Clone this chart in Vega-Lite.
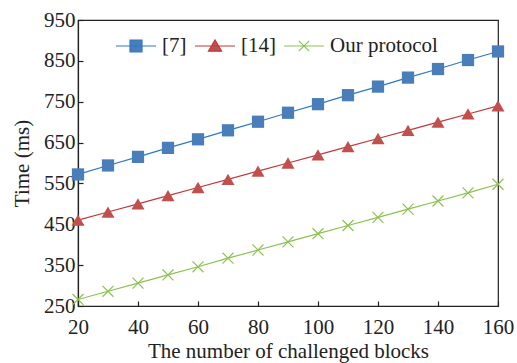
{
  "$schema": "https://vega.github.io/schema/vega-lite/v6.json",
  "width": 420,
  "height": 286,
  "autosize": "none",
  "padding": {"left": 78, "top": 20, "right": 19, "bottom": 57},
  "background": "white",
  "config": {
    "font": "Liberation Serif",
    "view": {"stroke": "#222", "strokeWidth": 1.2},
    "axis": {
      "domainColor": "#222", "domainWidth": 1.2, "tickColor": "#222", "tickWidth": 1.2,
      "tickSize": -5, "grid": false, "labelFlush": false, "labelFont": "Liberation Serif", "labelFontSize": 21,
      "labelColor": "#222", "titleFont": "Liberation Serif", "titleFontSize": 21,
      "titleFontWeight": "normal", "titleColor": "#222"
    }
  },
  "data": {"values": [
    {"x": 20, "s": "[7]", "y": 572}, {"x": 30, "s": "[7]", "y": 594}, {"x": 40, "s": "[7]", "y": 615},
    {"x": 50, "s": "[7]", "y": 637}, {"x": 60, "s": "[7]", "y": 658}, {"x": 70, "s": "[7]", "y": 680},
    {"x": 80, "s": "[7]", "y": 701}, {"x": 90, "s": "[7]", "y": 723}, {"x": 100, "s": "[7]", "y": 744},
    {"x": 110, "s": "[7]", "y": 766}, {"x": 120, "s": "[7]", "y": 787}, {"x": 130, "s": "[7]", "y": 809},
    {"x": 140, "s": "[7]", "y": 830}, {"x": 150, "s": "[7]", "y": 852}, {"x": 160, "s": "[7]", "y": 873},
    {"x": 20, "s": "[14]", "y": 460}, {"x": 30, "s": "[14]", "y": 480}, {"x": 40, "s": "[14]", "y": 500},
    {"x": 50, "s": "[14]", "y": 520}, {"x": 60, "s": "[14]", "y": 540}, {"x": 70, "s": "[14]", "y": 560},
    {"x": 80, "s": "[14]", "y": 580}, {"x": 90, "s": "[14]", "y": 600}, {"x": 100, "s": "[14]", "y": 620},
    {"x": 110, "s": "[14]", "y": 640}, {"x": 120, "s": "[14]", "y": 660}, {"x": 130, "s": "[14]", "y": 680},
    {"x": 140, "s": "[14]", "y": 700}, {"x": 150, "s": "[14]", "y": 720}, {"x": 160, "s": "[14]", "y": 740},
    {"x": 20, "s": "Our protocol", "y": 266}, {"x": 30, "s": "Our protocol", "y": 286}, {"x": 40, "s": "Our protocol", "y": 306},
    {"x": 50, "s": "Our protocol", "y": 326}, {"x": 60, "s": "Our protocol", "y": 346}, {"x": 70, "s": "Our protocol", "y": 367},
    {"x": 80, "s": "Our protocol", "y": 387}, {"x": 90, "s": "Our protocol", "y": 407}, {"x": 100, "s": "Our protocol", "y": 427},
    {"x": 110, "s": "Our protocol", "y": 447}, {"x": 120, "s": "Our protocol", "y": 467}, {"x": 130, "s": "Our protocol", "y": 487},
    {"x": 140, "s": "Our protocol", "y": 507}, {"x": 150, "s": "Our protocol", "y": 527}, {"x": 160, "s": "Our protocol", "y": 548}
  ]},
  "encoding": {
    "x": {"field": "x", "type": "quantitative", "scale": {"domain": [20, 160], "nice": false},
      "axis": {"values": [20, 40, 60, 80, 100, 120, 140, 160], "title": "The number of challenged blocks", "labelPadding": 15, "titlePadding": 3}},
    "y": {"field": "y", "type": "quantitative", "scale": {"domain": [250, 950], "nice": false, "zero": false},
      "axis": {"values": [250, 350, 450, 550, 650, 750, 850, 950], "title": "Time (ms)", "labelPadding": 8, "titlePadding": 11}}
  },
  "layer": [
    {
      "mark": {"type": "line", "strokeWidth": 1.2},
      "encoding": {
        "color": {"field": "s", "type": "nominal", "sort": ["[7]", "[14]", "Our protocol"],
          "scale": {"domain": ["[7]", "[14]", "Our protocol"], "range": ["#2f78c4", "#c0393b", "#8cc152"]},
          "legend": {
            "title": null, "orient": "none", "direction": "horizontal", "legendX": 37, "legendY": 5,
            "symbolSize": 1600, "labelFontSize": 21, "labelFont": "Liberation Serif", "labelColor": "#222",
            "labelOffset": 5, "columnPadding": 5, "symbolStrokeWidth": 1.2,
            "encode": {"symbols": {"update": {
              "shape": {"signal": "datum.value === '[7]' ? 'M-1,0H1M-0.3,-0.3H0.3V0.3H-0.3Z' : datum.value === '[14]' ? 'M-1,0H1M-0.33,0.26L0,-0.3L0.33,0.26Z' : 'M-1,0H1M-0.26,-0.26L0.26,0.26M-0.26,0.26L0.26,-0.26'"},
              "fill": {"signal": "datum.value === '[7]' ? '#4a7ebb' : datum.value === '[14]' ? '#c0504d' : 'transparent'"},
              "stroke": {"signal": "datum.value === '[7]' ? '#2f78c4' : datum.value === '[14]' ? '#c0393b' : '#8cc152'"},
              "strokeWidth": {"value": 1.2}
            }}}
          }}
      }
    },
    {
      "transform": [{"filter": "datum.s === '[7]'"}],
      "mark": {"type": "point", "shape": "square", "filled": true, "size": 150, "color": "#4a7ebb", "opacity": 1}
    },
    {
      "transform": [{"filter": "datum.s === '[14]'"}],
      "mark": {"type": "point", "shape": "triangle-up", "filled": true, "size": 170, "color": "#c0504d", "opacity": 1}
    },
    {
      "transform": [{"filter": "datum.s === 'Our protocol'"}],
      "mark": {"type": "point", "shape": "M-1,-1L1,1M-1,1L1,-1", "filled": false, "size": 120, "color": "#8cc152", "strokeWidth": 1.2, "opacity": 1}
    }
  ]
}
